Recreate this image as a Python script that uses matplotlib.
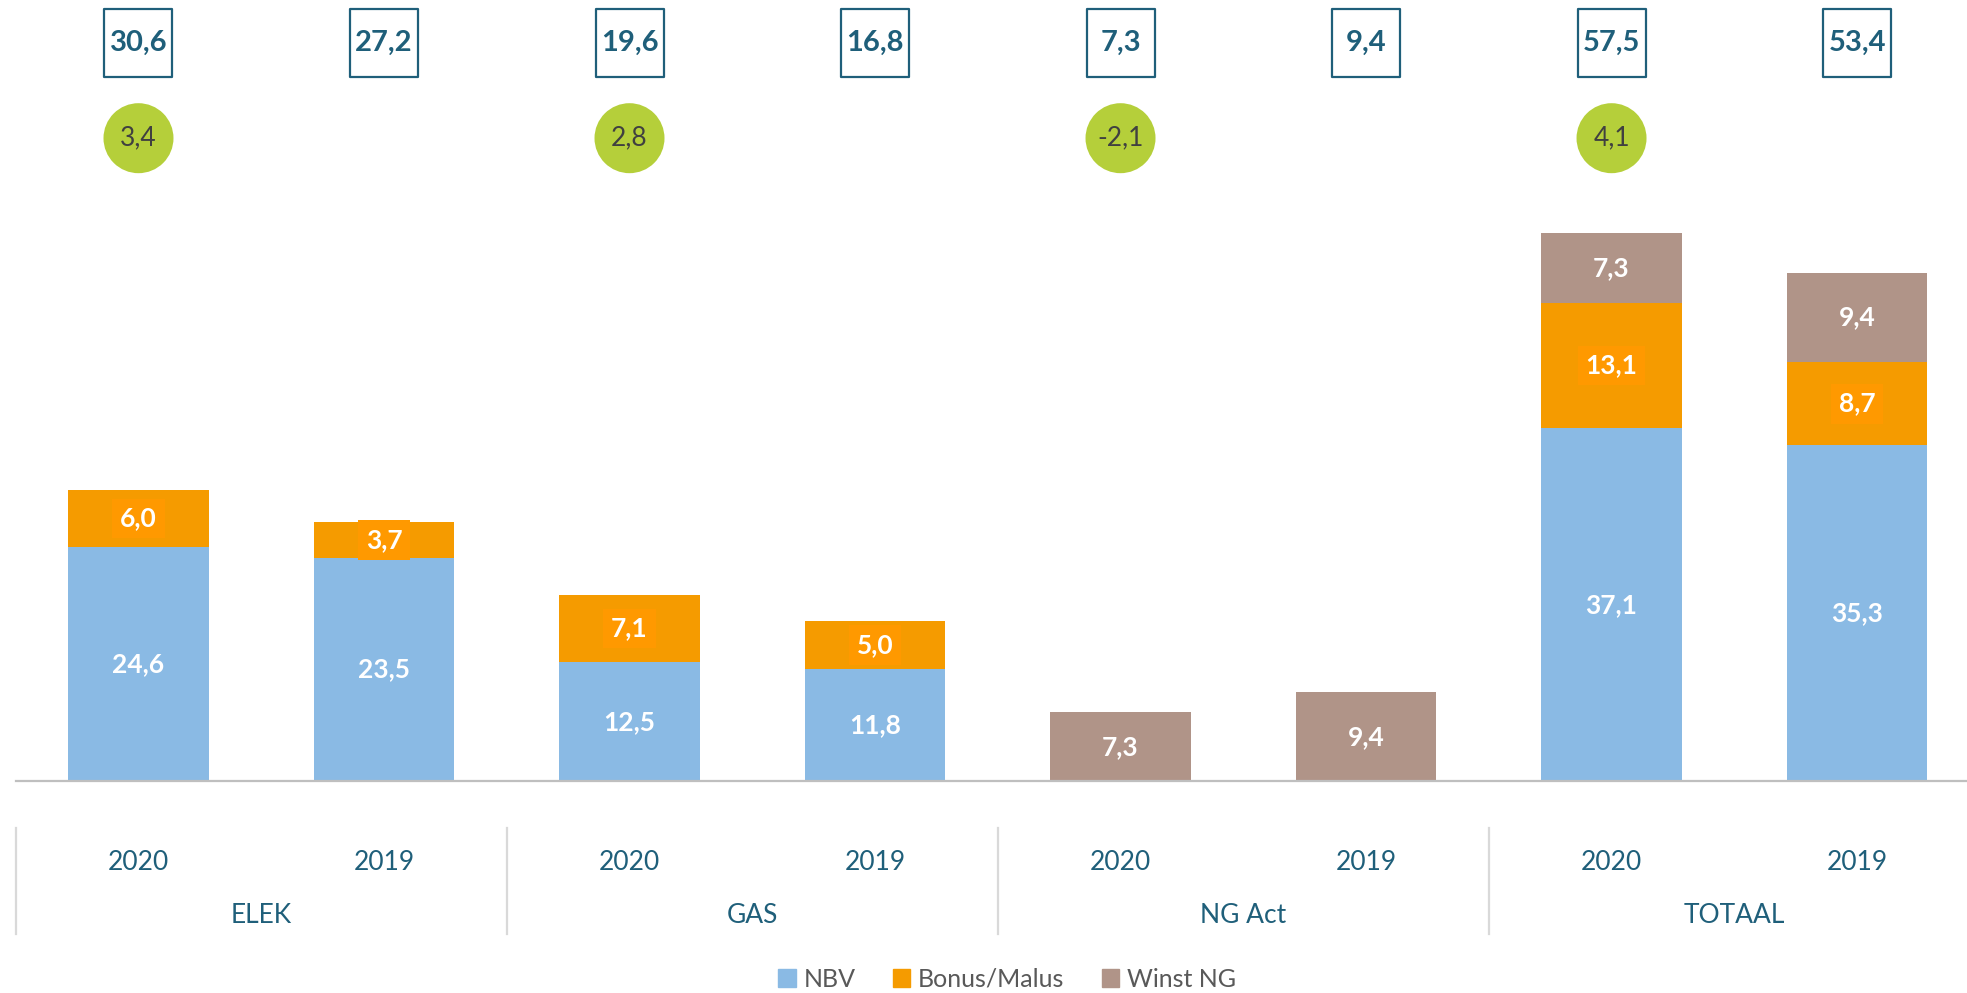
import matplotlib
matplotlib.use("Agg")
import matplotlib.pyplot as plt
import matplotlib.transforms as mtransforms
from matplotlib.patches import Patch
import numpy as np

plt.rcParams['font.family'] = ['Lato', 'DejaVu Sans']

# ---- data ----
groups = ["ELEK", "GAS", "NG Act", "TOTAAL"]
years = ["2020", "2019", "2020", "2019", "2020", "2019", "2020", "2019"]
nbv = [24.6, 23.5, 12.5, 11.8, 0, 0, 37.1, 35.3]
bonus = [6.0, 3.7, 7.1, 5.0, 0, 0, 13.1, 8.7]
winst = [0, 0, 0, 0, 7.3, 9.4, 7.3, 9.4]
totals = [30.6, 27.2, 19.6, 16.8, 7.3, 9.4, 57.5, 53.4]
diffs = [3.4, 2.8, -2.1, 4.1]          # shown above the 2020 bars
series_names = ["NBV", "Bonus/Malus", "Winst NG"]

# ---- style ----
C_NBV = "#8ABAE4"
C_BON = "#F59B00"
C_BON_LBL = "#FF9900"
C_WIN = "#B09488"
C_TEAL = "#1F5F7A"
C_GREEN = "#B5CF3A"
C_GREY_TXT = "#595959"

def fmt(v):
    return f"{v:.1f}".replace(".", ",")

fig = plt.figure(figsize=(19.67, 9.93), dpi=100)
ax = fig.add_axes([0.008, 0.213, 0.9985, 0.787])
x = np.arange(len(years))
w = 0.574

ax.bar(x, nbv, w, color=C_NBV, label=series_names[0])
ax.bar(x, bonus, w, bottom=nbv, color=C_BON, label=series_names[1])
bottom3 = [a + b for a, b in zip(nbv, bonus)]
ax.bar(x, winst, w, bottom=bottom3, color=C_WIN, label=series_names[2])

ax.set_xlim(-0.5, 7.5)
ax.set_ylim(0, 82)
for s in ["top", "right", "left"]:
    ax.spines[s].set_visible(False)
ax.spines["bottom"].set_color("#BFBFBF")
ax.spines["bottom"].set_linewidth(1.6)
ax.set_xticks([])
ax.set_yticks([])

# segment labels
LBL = 19
for i in range(len(x)):
    if nbv[i] > 0:
        ax.text(x[i], nbv[i] / 2, fmt(nbv[i]), ha="center", va="center",
                color="white", fontsize=LBL, fontweight="bold")
    if bonus[i] > 0:
        ax.text(x[i], nbv[i] + bonus[i] / 2, fmt(bonus[i]), ha="center", va="center",
                color="white", fontsize=LBL, fontweight="bold",
                bbox=dict(boxstyle="square,pad=0.3", fc=C_BON_LBL, ec="none"))
    if winst[i] > 0:
        ax.text(x[i], bottom3[i] + winst[i] / 2, fmt(winst[i]), ha="center", va="center",
                color="white", fontsize=LBL, fontweight="bold")

# total boxes
box_y = 77.5
ax.scatter(x, [box_y] * len(x), marker="s", s=2400, facecolor="white",
           edgecolor=C_TEAL, linewidth=1.6, clip_on=False, zorder=3)
for i, t in enumerate(totals):
    ax.text(x[i], box_y, fmt(t), ha="center", va="center", color=C_TEAL,
            fontsize=21, fontweight="bold", zorder=4)

# difference circles
circ_y = 67.5
cx = x[::2]
ax.scatter(cx, [circ_y] * len(cx), marker="o", s=2540, facecolor=C_GREEN,
           edgecolor="none", clip_on=False, zorder=3)
for xi, d in zip(cx, diffs):
    ax.text(xi, circ_y, fmt(d), ha="center", va="center", color="#404040",
            fontsize=19, zorder=4)

# category axis
trans = mtransforms.blended_transform_factory(ax.transData, fig.transFigure)
for i, yr in enumerate(years):
    ax.text(x[i], 0.131, yr, transform=trans, ha="center", va="center",
            color=C_TEAL, fontsize=19, clip_on=False)
for g, name in enumerate(groups):
    ax.text(2 * g + 0.5, 0.078, name, transform=trans, ha="center", va="center",
            color=C_TEAL, fontsize=19, clip_on=False)
for sx in [-0.5, 1.5, 3.5, 5.5, 7.5]:
    ax.plot([sx, sx], [0.1657, 0.0594], transform=trans, color="#D9D9D9",
            linewidth=1.6, clip_on=False)

handles = [Patch(color=C_NBV), Patch(color=C_BON), Patch(color=C_WIN)]
leg = fig.legend(handles, series_names, loc="center", bbox_to_anchor=(0.512, 0.014),
                 ncol=3, frameon=False, fontsize=18, handlelength=0.7,
                 handleheight=0.7, handletextpad=0.3, columnspacing=1.5)
for t in leg.get_texts():
    t.set_color(C_GREY_TXT)

fig.savefig("out.png", dpi=100)
